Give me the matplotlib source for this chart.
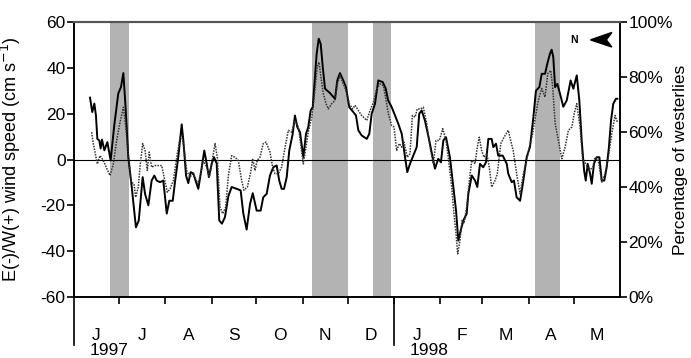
import matplotlib
matplotlib.use("Agg")
import matplotlib.pyplot as plt
from matplotlib.patches import Polygon
import matplotlib.transforms as mtransforms

plt.rcParams['font.family'] = ['Liberation Sans', 'DejaVu Sans']

# days since 1 June 1997
wind_days = [10.7, 12.2, 13.6, 14.7, 15.6, 16.9, 17.8, 18.7, 20.3, 22.3, 24.5, 26.9, 29.6, 31.4, 33, 34.6,
             36.3, 38.6, 41.4, 43.3, 45.9, 47.5, 49.7, 51.9, 53.7, 55.3, 57.5, 59.7, 62, 63.7, 66, 67.5,
             69.7, 72, 73.1, 74.9, 76.4, 78, 79.8, 81.6, 83.1, 84.9, 87.1, 88.7, 90.2, 92.1, 93.6, 95.4,
             97.1, 98.9, 100.9, 103.2, 105.4, 108.8, 111.4, 113.2, 115.4, 117.7, 119.5, 122.1, 124.8,
             126.5, 128.8, 131, 133.2, 135.5, 137.2, 138.8, 140.4, 142.2, 143.9, 146.2, 147.7, 149.3,
             151.1, 153.3, 155.1, 156.6, 158.2, 159.6, 161.1, 162.2, 163.6, 164.9, 166.3, 167.8, 171.1,
             174.5, 176, 177.8, 180, 181.8, 184, 186.7, 188.5, 190.1, 192.3, 195.7, 197.4, 199, 201.2,
             203.4, 206.4, 208.4, 209.9, 212.4, 214.6, 216.8, 219.1, 221.3, 222.8, 224.6, 226.8, 229.1,
             230.8, 232.4, 234.6, 237.5, 239.8, 241.3, 243.5, 245.3, 246.9, 248.7, 251.3, 253.6, 255.4,
             256.9, 258.5, 260.3, 262.5, 263.6, 265.9, 268.1, 269.6, 271.4, 273.6, 275.4, 277, 279.2,
             280.3, 282.1, 283.6, 286.6, 289.3, 290.3, 292.6, 294.1, 295.9, 298.2, 300.4, 302.6, 304.8,
             307.1, 308.8, 311.1, 312.7, 314.9, 316.4, 318.2, 319.3, 320.4, 321.6, 323.1, 324.9, 327.1,
             329.4, 332, 333.8, 336.1, 337.8, 339.4, 341, 342.1, 343.4, 345, 346.1, 347.6, 349.4, 351.2,
             352.8, 354.5, 356.1, 357.6, 359, 360.5, 362.3, 363.2]
wind_speed = [27, 20.7, 24.4, 19, 9, 8.3, 4.8, 8.7, 4, 7.6, -0.4, 14.8, 28.8, 31.6, 37.7, 21.4,
              1, -12, -29.6, -26.6, -7.7, -15, -20, -9.2, -7, -9.2, -9.9, -9.2, -23.6, -18, -18, -9.9,
              1, 15.3, 8.3, -7, -10.3, -5.5, -6.1, -9.9, -12.8, -5.5, 3.9, -1.8, -7.7, -1.8, 1, -1.8,
              -26.6, -28, -25.2, -16, -12, -12.8, -13.5, -23.6, -30.6, -19.3, -14.7, -22.3, -22.3,
              -16.5, -15, -7, -3.4, -2.6, -9.2, -12.8, -12.8, -7.7, 3.9, 11.2, 19.2, 14.1,
              11.9, 1, 11.2, 14.1, 21.4, 22.8, 35.9, 46, 52.7, 50.5, 40.3, 30.9, 29,
              26.5, 34.5, 37.7, 34.5, 31.6, 22.8, 20.7, 19.2, 12.7, 10.5, 9, 11.2, 20, 24.3,
              34.5, 33.8, 30.9, 26, 22.8, 19.2, 15.6, 11.2, 1, -5.5, -1.9, 1.7, 5.4,
              20, 21.4, 17, 8.3, 1, -4, 0.3, -1.2, 8.3, 9.7, 1, -12, -22.3,
              -35.4, -31, -26.6, -23.7, -15, -7, -9.2, -12, -1.9, -3.4, -1.2, 9, 9,
              5.4, 6.9, 1.7, 1.7, -1.9, -6.2, -9.9, -9.2, -16.5, -18, -9.2, 1, 5.4,
              18.5, 30, 31.6, 37.4, 37.4, 41.8, 46.2, 47.9, 44.7, 31.6, 33, 28.7, 23,
              25.8, 34.5, 30.9, 36.7, 25.8, 8.3, -4.8, -9.2, -1.9, -6.2, -10.6, -1.9, 1, 1,
              -9.2, -9.2, -3.4, 5.4, 17, 24.3, 26.5, 26.5]

west_days = [11.8, 12.9, 14.7, 15.6, 17.4, 19.6, 21.9, 24.1, 26.3, 28.5, 30.8, 33, 34.6, 36.3, 38.1,
             40.1, 41.2, 43, 44.1, 45.9, 47.5, 49, 50.3, 51.9, 54.1, 56.4, 58.6, 60.2, 62.4, 64.2,
             66.4, 68.7, 70.9, 72, 73.5, 75.3, 77.5, 79.3, 80.9, 82.7, 84.2, 86.4, 88.7, 90.4, 92.7,
             94.3, 95.8, 97.6, 99.4, 101.4, 103.2, 105.4, 107.6, 109.8, 112.1, 113.6, 115.9, 118.1,
             119.5, 121, 122.5, 124.3, 126.5, 128.4, 131, 132.8, 134.4, 136.6, 138.8, 141.1, 143.3,
             145.5, 147.7, 150, 151.5, 153.3, 155.1, 156.6, 158.9, 160.6, 162.6, 163.8, 165.1, 166.7,
             168.5, 170, 172.3, 174.5, 176, 177.8, 180, 181.8, 184, 186.3, 187.9, 190.1, 192.3, 195.7,
             197.9, 200.1, 202.4, 204.6, 206.8, 208.5, 210.1, 212.4, 213.9, 215.7, 217.5, 219.1,
             220.6, 222.8, 224.6, 226.2, 228, 229.5, 231.8, 233.5, 235.8, 238, 240.2, 242, 244.2,
             246.5, 248.7, 250.2, 252.5, 254, 255.4, 256.5, 258, 259.4, 260.7, 262.5, 264.3, 265.9,
             268.1, 269.6, 270.9, 272.5, 274.1, 275.9, 277.6, 279.2, 281.4, 283, 285.3, 287.5, 290.3,
             291.9, 293.6, 295.9, 298.2, 300.4, 302.6, 304.4, 306.6, 308.2, 310.4, 312.7, 314.9,
             316.7, 318.7, 320, 321.6, 323.8, 326.1, 328.3, 330.5, 332.8, 334.4, 336.1, 338.3, 340.1,
             342.3, 344.5, 346.8, 348.3, 350.5, 352.8, 355, 357.2, 359.5, 361.7, 363.2]
west_pct = [59.9, 55.8, 50.8, 48.4, 51.4, 49.7, 46.7, 44.2, 48.4, 56.9, 63.6, 69, 61.8, 52.1, 41.8,
            41.2, 36.3, 40, 47.2, 55.8, 53.3, 46, 52.7, 47.2, 47.8, 47.8, 47.8, 43.6, 38.1, 39.3,
            42.3, 50.8, 58.1, 58.8, 54.5, 46, 43.6, 44.8, 43.6, 41.2, 43.6, 49.7, 47.2, 43.6, 50.8,
            55.8, 50.8, 32.7, 30.3, 32.7, 44.2, 51.4, 50.8, 49.7, 42.3, 38.8, 40, 45.4,
            50.3, 46, 49.7, 50.8, 55.8, 56.3, 52.7, 47.2, 44.8, 44.8, 47.2, 54.5, 60.6,
            59.9, 64.2, 61.8, 55.8, 48.4, 54.5, 59.9, 65.4, 72.7, 83.6, 85.4, 79.9, 73.9,
            70.3, 68.4, 70.3, 71.5, 77.5, 80.6, 77.5, 75.1, 70.3, 68.4, 69.7, 67.8, 66, 64.2,
            67.8, 70.8, 75.8, 77.5, 76.9, 72, 66.7, 62.3, 61.8, 53.3, 55.8, 54.5,
            56.3, 50.8, 52.1, 66, 65.4, 68.4, 68.4, 69, 63, 54.5, 48.4, 56.9, 56.9,
            61.2, 56.9, 50.8, 40, 30.3, 23, 15.7, 20.5, 27.8, 26.7, 32.7, 42.3, 49.7,
            48.4, 54.5, 58.1, 53.3, 50.8, 52.1, 47.2, 40, 42.3, 44.8, 55.8, 58.1, 60.6,
            56.9, 53.3, 44.8, 37.5, 44.8, 49.7, 54.5, 59.3, 64.8, 71.5, 75.8, 72.7,
            81.2, 82.4, 76.3, 63.3, 56.9, 50.3, 54.5, 60.6, 61.8, 66.7, 70.3, 61.8, 49.7,
            48.4, 46, 47.2, 50.8, 49.7, 41.8, 44.8, 50.8, 59.3, 66, 63.6]

shade_start = [24.3, 158.9, 200, 308]
shade_end = [36.8, 183, 212, 325]

month_edges = [0, 30, 61, 92, 122, 153, 183, 214, 245, 273, 304, 334, 365]
month_labels = ['J', 'J', 'A', 'S', 'O', 'N', 'D', 'J', 'F', 'M', 'A', 'M']
year_labels = ['1997', '1998']
year_starts = [0, 214]

left_ticks = [-60, -40, -20, 0, 20, 40, 60]
right_ticks = [0, 20, 40, 60, 80, 100]

fig = plt.figure(figsize=(6.91, 3.58), dpi=100)
ax = fig.add_axes([74/691, 1-297/358, 546/691, 275/358])
ax2 = ax.twinx()

for s, e in zip(shade_start, shade_end):
    ax.axvspan(s, e, color='#b3b3b3', lw=0, zorder=0)
ax.axhline(0, color='black', lw=0.8, zorder=1)
ax.plot(wind_days, wind_speed, color='black', lw=1.4, zorder=3)
ax2.plot(west_days, west_pct, color='#333333', lw=1.1, ls=(0, (1, 0.8)), zorder=2)

ax.set_xlim(0, 365)
ax.set_ylim(-60, 60)
ax2.set_ylim(0, 100)

ax.set_yticks(left_ticks)
ax.set_yticklabels([str(t) for t in left_ticks])
ax2.set_yticks(right_ticks)
ax2.set_yticklabels([f'{t}%' for t in right_ticks])

ax.set_xticks(month_edges[1:-1])
ax.set_xticklabels([])
ax.set_xticks([(a + b) / 2 for a, b in zip(month_edges[:-1], month_edges[1:])], minor=True)
ax.set_xticklabels(month_labels, minor=True)
ax.tick_params(axis='x', which='major', direction='out', length=5, width=1.2, color='black')
ax.tick_params(axis='x', which='minor', length=0, pad=22, labelsize=12.5)
ax.tick_params(axis='y', direction='out', length=5, width=1.2, labelsize=12.5, pad=1)
ax2.tick_params(axis='y', direction='out', length=5, width=1.2, labelsize=12.5, pad=1)

for a in (ax, ax2):
    a.spines['top'].set_color('#555555')
    a.spines['top'].set_linewidth(1.5)
    for s in ('left', 'right', 'bottom'):
        a.spines[s].set_linewidth(1.2)

ax.set_ylabel('E(-)/W(+) wind speed (cm s$^{-1}$)', fontsize=13)
ax2.set_ylabel('Percentage of westerlies', fontsize=12.5)
ax.yaxis.set_label_coords(-0.093, 0.5)
ax2.yaxis.set_label_coords(1.097, 0.5)

trans = mtransforms.blended_transform_factory(ax.transData, ax.transAxes)
for d, lab in zip(year_starts, year_labels):
    ax.plot([d, d], [0, -0.175], color='black', lw=1.2, transform=trans, clip_on=False)
    ax.text(d + 10.5, -0.195, lab, transform=trans, fontsize=12.5, ha='left', va='center')

# north arrow
ax.text(0.915, 0.935, 'N', transform=ax.transAxes, fontsize=7.5, fontweight='bold',
        ha='center', va='center')
arrow = Polygon([[0.946, 0.935], [0.985, 0.962], [0.975, 0.935], [0.985, 0.909]],
                closed=True, transform=ax.transAxes, color='black', zorder=5)
ax.add_patch(arrow)

fig.savefig('out.png', dpi=100)
